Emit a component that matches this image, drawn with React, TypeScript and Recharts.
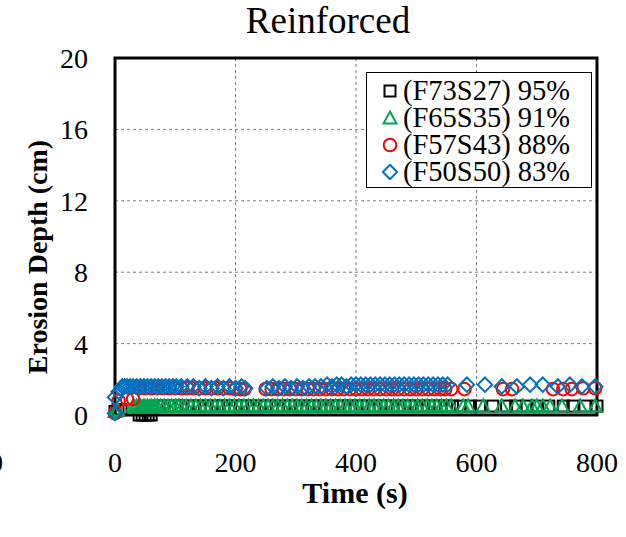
import React from 'react';
import { ScatterChart, Scatter, XAxis, YAxis, CartesianGrid, ReferenceArea, Legend, Label } from 'recharts';

// Time (s), erosion depth (cm)
const F73S27: [number, number][] = [
  [0, 0.2], [5, 0.3], [10, 0.3], [40, 0], [45, 0], [50, 0], [55, 0], [60, 0],
  [70, 0.5], [80, 0.5], [90, 0.5], [100, 0.5], [110, 0.5], [120, 0.5], [130, 0.5], [140, 0.5],
  [150, 0.5], [160, 0.5], [170, 0.5], [180, 0.5], [190, 0.5], [200, 0.5], [210, 0.5], [220, 0.5],
  [230, 0.5], [240, 0.5], [250, 0.5], [260, 0.5], [270, 0.5], [280, 0.5], [290, 0.5], [300, 0.5],
  [310, 0.5], [320, 0.5], [330, 0.5], [340, 0.5], [350, 0.5], [360, 0.5], [370, 0.5], [380, 0.5],
  [390, 0.5], [400, 0.5], [410, 0.5], [420, 0.5], [430, 0.5], [440, 0.5], [450, 0.5], [460, 0.5],
  [470, 0.5], [480, 0.5], [490, 0.5], [500, 0.5], [510, 0.5], [520, 0.5], [530, 0.5], [540, 0.5],
  [550, 0.5], [560, 0.5], [573, 0.5], [590, 0.5], [605, 0.5], [627, 0.5], [650, 0.5], [665, 0.5],
  [684, 0.5], [700, 0.5], [720, 0.5], [744, 0.5], [760, 0.5], [780, 0.5], [800, 0.5],
];

const F65S35: [number, number][] = [
  [0, 0.2], [4, 0.3], [30, 0.5], [33, 0.45], [36, 0.5], [39, 0.45], [42, 0.5], [45, 0.45],
  [48, 0.5], [51, 0.45], [54, 0.5], [57, 0.45], [60, 0.5], [63, 0.45], [66, 0.5], [70, 0.5],
  [76, 0.5], [82, 0.5], [88, 0.5], [94, 0.5], [100, 0.5], [106, 0.5], [112, 0.5], [118, 0.5],
  [126, 0.5], [134, 0.5], [142, 0.5], [150, 0.5], [158, 0.5], [166, 0.5], [174, 0.5], [182, 0.5],
  [190, 0.5], [198, 0.5], [206, 0.5], [214, 0.5], [222, 0.5], [230, 0.5], [238, 0.5], [246, 0.5],
  [254, 0.5], [262, 0.5], [270, 0.5], [278, 0.5], [286, 0.5], [294, 0.5], [302, 0.5], [310, 0.5],
  [318, 0.5], [326, 0.5], [334, 0.5], [342, 0.5], [350, 0.5], [358, 0.5], [366, 0.5], [374, 0.5],
  [382, 0.5], [390, 0.5], [398, 0.5], [406, 0.5], [414, 0.5], [422, 0.5], [430, 0.5], [438, 0.5],
  [446, 0.5], [454, 0.5], [462, 0.5], [470, 0.5], [478, 0.5], [486, 0.5], [494, 0.5], [502, 0.5],
  [510, 0.5], [518, 0.5], [526, 0.5], [534, 0.5], [542, 0.5], [550, 0.5], [558, 0.5], [578, 0.5],
  [586, 0.5], [611, 0.5], [642, 0.5], [664, 0.5], [677, 0.5], [692, 0.5], [700, 0.5], [710, 0.5],
  [722, 0.5], [742, 0.5], [772, 0.5], [797, 0.5],
];

const F57S43: [number, number][] = [
  [0, 0.1], [6, 0.8], [20, 0.9], [30, 0.9], [40, 1.5], [50, 1.5], [60, 1.5], [70, 1.5],
  [80, 1.5], [90, 1.5], [100, 1.5], [110, 1.5], [120, 1.5], [130, 1.5], [140, 1.5], [150, 1.5],
  [160, 1.5], [170, 1.5], [180, 1.5], [190, 1.5], [200, 1.45], [208, 1.45], [215, 1.45], [250, 1.45],
  [260, 1.45], [270, 1.45], [280, 1.45], [290, 1.45], [300, 1.45], [310, 1.45], [320, 1.45], [330, 1.45],
  [340, 1.45], [350, 1.45], [360, 1.45], [370, 1.45], [380, 1.45], [390, 1.45], [400, 1.45], [410, 1.45],
  [420, 1.45], [430, 1.45], [440, 1.45], [450, 1.45], [460, 1.45], [470, 1.45], [480, 1.45], [490, 1.45],
  [500, 1.45], [510, 1.45], [520, 1.45], [530, 1.45], [540, 1.45], [548, 1.45], [558, 1.45], [580, 1.45],
  [644, 1.45], [659, 1.45], [727, 1.45], [744, 1.45], [758, 1.45], [777, 1.5], [797, 1.5],
];

const F50S50: [number, number][] = [
  [0, 0.1], [0, 1.0], [6, 1.3], [12, 1.6], [16, 1.6], [20, 1.6], [25, 1.6], [30, 1.6],
  [36, 1.6], [42, 1.6], [48, 1.6], [54, 1.6], [60, 1.6], [66, 1.6], [72, 1.6], [78, 1.6],
  [84, 1.6], [90, 1.6], [96, 1.6], [102, 1.6], [110, 1.6], [120, 1.6], [130, 1.6], [140, 1.5],
  [150, 1.6], [160, 1.5], [170, 1.6], [180, 1.5], [190, 1.6], [200, 1.5], [210, 1.6], [216, 1.5],
  [252, 1.5], [262, 1.6], [272, 1.5], [282, 1.6], [292, 1.5], [302, 1.6], [312, 1.5], [322, 1.6],
  [332, 1.6], [342, 1.6], [352, 1.7], [360, 1.6], [368, 1.7], [376, 1.7], [384, 1.6], [392, 1.7],
  [400, 1.7], [408, 1.7], [416, 1.7], [424, 1.7], [432, 1.7], [440, 1.7], [448, 1.7], [456, 1.7],
  [464, 1.7], [472, 1.7], [480, 1.7], [488, 1.7], [496, 1.7], [504, 1.7], [512, 1.7], [520, 1.7],
  [528, 1.7], [536, 1.7], [544, 1.7], [552, 1.7], [584, 1.7], [614, 1.7], [642, 1.6], [667, 1.6],
  [689, 1.7], [710, 1.7], [735, 1.6], [755, 1.7], [775, 1.6], [797, 1.6],
];

const xTicks = [0, 200, 400, 600, 800];
const yTicks = [0, 4, 8, 12, 16, 20];

const seriesNames = ['(F73S27) 95%', '(F65S35) 91%', '(F57S43) 88%', '(F50S50) 83%'];
const seriesColors = ['#000000', '#00A651', '#FF0000', '#0070C0'];
const seriesShapes = ['square', 'triangle', 'circle', 'diamond'];

const toPoints = (arr: [number, number][]) => arr.map(([t, d]) => ({ t, d }));

const FONT = '"Liberation Serif", "Times New Roman", serif';

const markerPath = (kind: string, cx: number, cy: number, color: string) => {
  const sw = 2;
  if (kind === 'square') {
    return <rect x={cx - 5.5} y={cy - 5.5} width={11} height={11} fill="none" stroke={color} strokeWidth={sw} />;
  }
  if (kind === 'triangle') {
    return <polygon points={`${cx},${cy - 6.5} ${cx + 6.5},${cy + 5.5} ${cx - 6.5},${cy + 5.5}`} fill="none" stroke={color} strokeWidth={sw} />;
  }
  if (kind === 'circle') {
    return <circle cx={cx} cy={cy} r={6.3} fill="none" stroke={color} strokeWidth={sw} />;
  }
  return <polygon points={`${cx},${cy - 7.2} ${cx + 7.2},${cy} ${cx},${cy + 7.2} ${cx - 7.2},${cy}`} fill="none" stroke={color} strokeWidth={sw} />;
};

const makeShape = (kind: string, color: string) => (props: any) => {
  const { cx, cy } = props;
  if (cx == null || cy == null) return <g />;
  return markerPath(kind, cx, cy, color);
};

const renderLegend = () => (
  <div
    style={{
      border: '1px solid #000',
      background: '#fff',
      width: 226,
      height: 116,
      boxSizing: 'border-box',
      paddingTop: 4,
      fontFamily: FONT,
      fontSize: 28.5,
      color: '#000',
    }}
  >
    {seriesNames.map((name, i) => (
      <div key={name} style={{ display: 'flex', alignItems: 'center', height: 27 }}>
        <svg width={16} height={16} style={{ marginLeft: 15, marginRight: 5, flex: 'none' }}>
          {markerPath(seriesShapes[i], 8, 8, seriesColors[i])}
        </svg>
        <span style={{ lineHeight: '26px', height: 26, whiteSpace: 'nowrap' }}>{name}</span>
      </div>
    ))}
  </div>
);

export default function App() {
  const datasets = [F73S27, F65S35, F57S43, F50S50];
  return (
    <div style={{ position: 'absolute', left: 0, top: 0, width: 626, height: 537, background: '#fff', overflow: 'hidden' }}>
      <div
        style={{
          position: 'absolute',
          left: 0,
          top: 2,
          width: 656,
          textAlign: 'center',
          fontFamily: FONT,
          fontSize: 37,
          lineHeight: '37px',
          color: '#000',
        }}
      >
        Reinforced
      </div>
      <div
        style={{
          position: 'absolute',
          right: 623,
          top: 449,
          fontFamily: FONT,
          fontSize: 28,
          lineHeight: '28px',
          color: '#000',
          whiteSpace: 'nowrap',
        }}
      >
        -200
      </div>
      <ScatterChart width={626} height={537} margin={{ top: 58, right: 29, bottom: 0, left: 0 }}>
        <CartesianGrid stroke="#808080" strokeDasharray="3 3" strokeWidth={1} />
        <XAxis
          type="number"
          dataKey="t"
          domain={[0, 800]}
          ticks={xTicks}
          axisLine={false}
          tickLine={false}
          tickSize={0}
          tickMargin={37}
          height={122}
          tick={{ fill: '#000', fontSize: 28, fontFamily: FONT }}
          interval={0}
        >
          <Label
            content={() => (
              <text x={355} y={503} textAnchor="middle" fontFamily={FONT} fontSize={30} fontWeight="bold" fill="#000">
                Time (s)
              </text>
            )}
          />
        </XAxis>
        <YAxis
          type="number"
          dataKey="d"
          domain={[0, 20]}
          ticks={yTicks}
          axisLine={false}
          tickLine={false}
          tickSize={0}
          tickMargin={27}
          width={115}
          tick={{ fill: '#000', fontSize: 28, fontFamily: FONT }}
          interval={0}
        >
          <Label
            content={() => (
              <text
                x={37}
                y={257}
                transform="rotate(-90 37 257)"
                textAnchor="middle"
                dominantBaseline="central"
                fontFamily={FONT}
                fontSize={28}
                fontWeight="bold"
                fill="#000"
              >
                Erosion Depth (cm)
              </text>
            )}
          />
        </YAxis>
        <ReferenceArea x1={0} x2={800} y1={0} y2={20} fill="none" fillOpacity={0} stroke="#000" strokeWidth={3} ifOverflow="visible" />
        {datasets.map((arr, i) => (
          <Scatter
            key={seriesNames[i]}
            name={seriesNames[i]}
            data={toPoints(arr)}
            fill={seriesColors[i]}
            shape={makeShape(seriesShapes[i], seriesColors[i])}
            isAnimationActive={false}
          />
        ))}
        <Legend
          layout="vertical"
          align="center"
          verticalAlign="middle"
          content={renderLegend}
          wrapperStyle={{ left: 366, top: 72, width: 226, height: 116 }}
        />
      </ScatterChart>
    </div>
  );
}
